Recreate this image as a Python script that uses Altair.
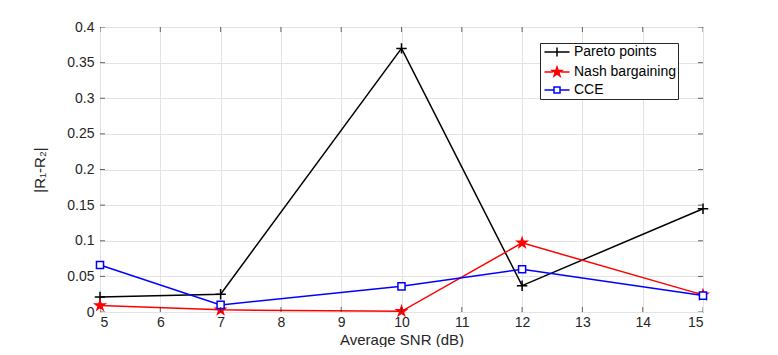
import altair as alt
import pandas as pd

snr = [5, 7, 10, 12, 15]
series_names = ["Pareto points", "Nash bargaining", "CCE"]
pareto = [0.021, 0.025, 0.370, 0.037, 0.145]
nash = [0.009, 0.003, 0.001, 0.097, 0.024]
cce = [0.066, 0.010, 0.036, 0.060, 0.023]
x_ticks = [5, 6, 7, 8, 9, 10, 11, 12, 13, 14, 15]
y_ticks = [0, 0.05, 0.1, 0.15, 0.2, 0.25, 0.3, 0.35, 0.4]

line_colors = ["#000000", "#ff0000", "#0000ff"]
fill_colors = ["transparent", "#ff0000", "#ffffff"]
marker_sizes = [110, 100, 50]

star = "M0,-1L0.225,-0.309L0.951,-0.309L0.363,0.118L0.588,0.809L0,0.382L-0.588,0.809L-0.363,0.118L-0.951,-0.309L-0.225,-0.309Z"
plot_shapes = ["M-1,0H1M0,-1V1", star, "M-1,-1H1V1H-1Z"]


def scaled_star(k):
    pts = star[1:-1].split("L")
    out = []
    for p in pts:
        a, b = p.split(",")
        out.append(f"{float(a)*k:.3f},{float(b)*k:.3f}")
    return "M" + "L".join(out) + "Z"


legend_shapes = [
    "M-3,0H3M0,-1.1V1.1",
    "M-3,0H-1M1,0H3" + scaled_star(1.2),
    "M-3,0H-0.72M0.72,0H3M-0.72,-0.72H0.72V0.72H-0.72Z",
]

W, H = 603, 285

rows = []
for name, vals in zip(series_names, [pareto, nash, cce]):
    for s, v in zip(snr, vals):
        rows.append({"snr": s, "val": v, "series": name})
df = pd.DataFrame(rows)

xscale = alt.Scale(domain=[5, 15], nice=False)
yscale = alt.Scale(domain=[0, 0.4], nice=False)
xaxis = alt.Axis(values=x_ticks, title="Average SNR (dB)", format="d")
yaxis = alt.Axis(values=y_ticks, title="|R₁-R₂|", format="~g")
xenc = alt.X("snr:Q", scale=xscale, axis=xaxis)
yenc = alt.Y("val:Q", scale=yscale, axis=yaxis)

base = alt.Chart(df)

layers = []
for name, col, shp, fc, sz in zip(series_names, line_colors, plot_shapes, fill_colors, marker_sizes):
    sub = base.transform_filter(alt.datum.series == name)
    layers.append(sub.mark_line(strokeWidth=1.5, color=col).encode(x=xenc, y=yenc))
    layers.append(
        sub.mark_point(filled=False, strokeWidth=1.5, opacity=1, shape=shp,
                       stroke=col, fill=fc, size=sz).encode(x=xenc, y=yenc)
    )

# inward tick marks on all four sides (MATLAB box style)
xt = alt.Chart(pd.DataFrame({"snr": x_ticks}))
yt = alt.Chart(pd.DataFrame({"val": y_ticks}))
tick_layers = [
    xt.mark_tick(color="#262626", thickness=1, size=10, clip=True, orient="vertical").encode(
        x=xenc, y=alt.value(0)),
    xt.mark_tick(color="#262626", thickness=1, size=10, clip=True, orient="vertical").encode(
        x=xenc, y=alt.value(H)),
    yt.mark_tick(color="#262626", thickness=1, size=10, clip=True, orient="horizontal").encode(
        y=yenc, x=alt.value(0)),
    yt.mark_tick(color="#262626", thickness=1, size=10, clip=True, orient="horizontal").encode(
        y=yenc, x=alt.value(W)),
]

leg = alt.Legend(
    title=None, orient="none", legendX=440, legendY=16,
    fillColor="white", strokeColor="#262626", padding=2,
    symbolSize=70, symbolStrokeWidth=1.5, symbolOffset=8,
    labelOffset=10, labelFontSize=14, labelColor="#000000",
    labelFont="Liberation Sans", rowPadding=3,
)

legend_layer = base.mark_point(filled=False, strokeWidth=1.5, size=70, opacity=1).encode(
    x=xenc, y=yenc,
    color=alt.Color("series:N", scale=alt.Scale(domain=series_names, range=line_colors), legend=leg),
    fill=alt.Fill("series:N", scale=alt.Scale(domain=series_names, range=fill_colors), legend=leg),
    shape=alt.Shape("series:N", scale=alt.Scale(domain=series_names, range=legend_shapes), legend=leg),
).transform_filter("false")

chart = alt.layer(*layers, *tick_layers, legend_layer).properties(
    width=W, height=H,
    autosize=alt.AutoSizeParams(type="none"),
    padding={"left": 92, "top": 19, "right": 67, "bottom": 35},
).configure(
    font="Liberation Sans",
).configure_view(
    stroke="#262626", strokeWidth=1,
).configure_axis(
    domain=False, ticks=False, grid=True, gridColor="#e3e3e3", gridWidth=1,
    labelFont="Liberation Sans", labelFontSize=14, labelColor="#262626",
    titleFont="Liberation Sans", titleFontSize=15, titleColor="#262626",
    titleFontWeight="normal", labelPadding=6,
).configure_axisX(titleBaseline="alphabetic", titleY=32, labelPadding=3).configure_axisY(titlePadding=19)

chart.save("out.html", embed_options={"renderer": "svg", "actions": False})
